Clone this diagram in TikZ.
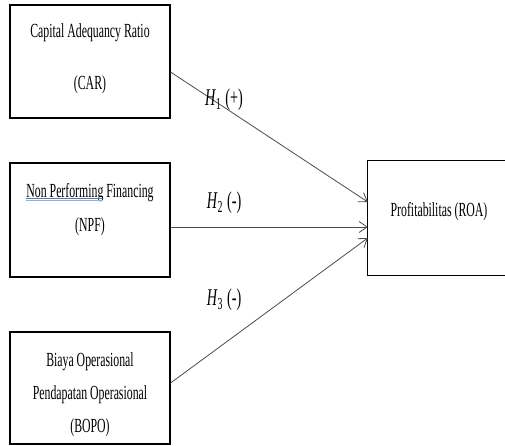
\documentclass[tikz,border=0pt]{standalone}
\usepackage{fontspec}
\setmainfont[FakeStretch=0.59]{Liberation Serif}
\usetikzlibrary{arrows.meta}
\definecolor{lineg}{RGB}{75,75,75}
\definecolor{spellblue}{RGB}{80,120,190}
\tikzset{
  varbox/.style={draw=black, line width=1.1pt, minimum width=160pt, inner sep=0pt},
  boxtext/.style={inner sep=0pt, font=\fontsize{20}{24}\selectfont},
  hlabel/.style={inner sep=0pt, font=\fontsize{24}{28}\selectfont},
  link/.style={draw=lineg, line width=0.8pt, -{Straight Barb[length=8pt,width=11pt]}}
}
\begin{document}
\begin{tikzpicture}[x=1pt,y=1pt]
\useasboundingbox (0,0) rectangle (505,446);
% boxes
\node[varbox, minimum height=113pt] (car) at (90,384.5) {};
\node[varbox, minimum height=114pt] (npf) at (90,226) {};
\node[varbox, minimum height=112pt] (bopo) at (90,58) {};
\node[inner sep=0pt, minimum width=140pt, minimum height=114pt] (roa) at (438,228) {};
\draw[black, line width=1.1pt] (roa.north east) -- (roa.north west) -- (roa.south west) -- (roa.south east);
% texts
\node[boxtext] (cart1) at (90,413) {Capital Adequancy Ratio};
\node[boxtext] (cart2) at (90,361) {(CAR)};
\node[boxtext] (npft1) at (90,253) {Non Performing Financing};
\node[boxtext] (npft2) at (90,219) {(NPF)};
\node[boxtext] (bopot1) at (90,84) {Biaya Operasional};
\node[boxtext] (bopot2) at (90,51) {Pendapatan Operasional};
\node[boxtext] (bopot3) at (90,18) {(BOPO)};
\node[boxtext] (roat) at (439,234) {Profitabilitas (ROA)};
% spell-check underline
\draw[spellblue, line width=0.7pt] (26,247.5) -- (102,247.5);
\draw[spellblue!60, line width=0.5pt] (26,246) -- (102,246);
% connectors
\draw[link] ([yshift=-10.5pt]car.east) -- ([yshift=16pt]roa.west);
\draw[link] ([yshift=-7pt]npf.east) -- ([yshift=-9pt]roa.west);
\draw[link] ([yshift=5pt]bopo.east) -- ([yshift=-20pt]roa.west);
% labels
\node[hlabel] (h1) at (224,346) {\textit{H}\textsubscript{1}\,(+)};
\node[hlabel] (h2) at (224,243) {\textit{H}\textsubscript{2}\,(-)};
\node[hlabel] (h3) at (224,146) {\textit{H}\textsubscript{3}\,(-)};
\end{tikzpicture}
\end{document}
